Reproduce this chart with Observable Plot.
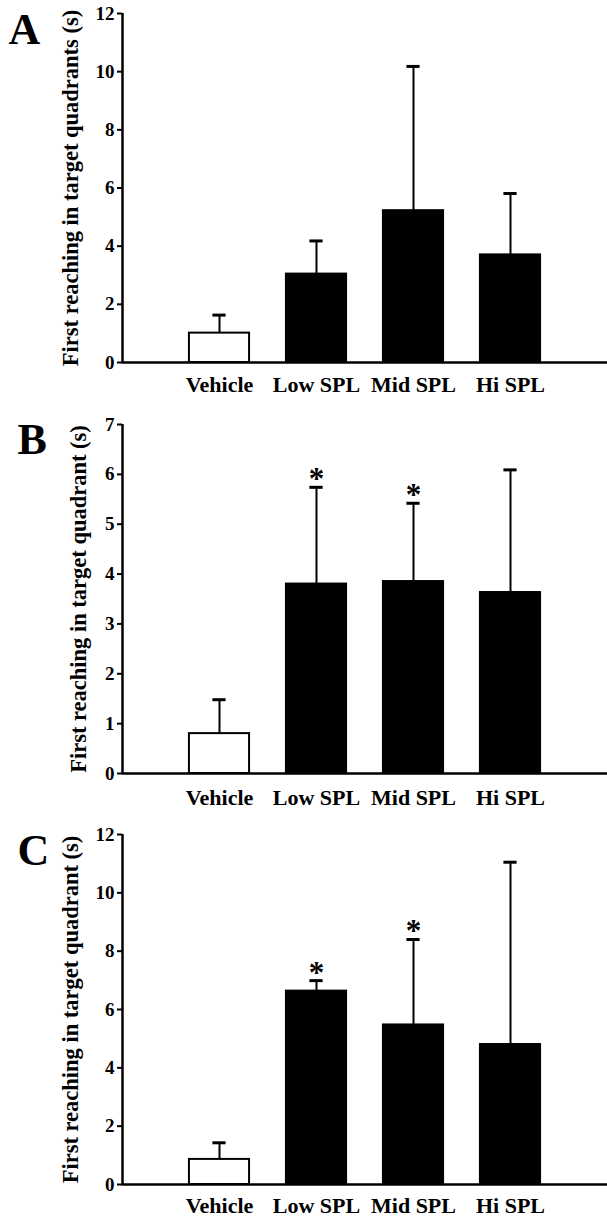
<!DOCTYPE html>
<html>
<head>
<meta charset="utf-8">
<script src="https://cdn.jsdelivr.net/npm/d3@7"></script>
<script src="https://cdn.jsdelivr.net/npm/@observablehq/plot@0.6"></script>
<style>
  body { margin: 0; background: #fff; }
  #chart svg { display: block; }
</style>
</head>
<body>
<div id="chart"></div>
<script>
// ---- Data ----
const categories = ["Vehicle", "Low SPL", "Mid SPL", "Hi SPL"];
const barFill = ["white", "black", "black", "black"];

const meansA = [1.01, 3.04, 5.22, 3.70];
const sdA    = [0.62, 1.14, 4.96, 2.11];
const starsA = [];
const ticksA = [0, 2, 4, 6, 8, 10, 12];

const meansB = [0.80, 3.80, 3.85, 3.63];
const sdB    = [0.68, 1.94, 1.57, 2.46];
const starsB = ["Low SPL", "Mid SPL"];
const ticksB = [0, 1, 2, 3, 4, 5, 6, 7];

const meansC = [0.86, 6.63, 5.47, 4.80];
const sdC    = [0.57, 0.36, 2.93, 6.25];
const starsC = ["Low SPL", "Mid SPL"];
const ticksC = [0, 2, 4, 6, 8, 10, 12];

const labelA = "First reaching in target quadrants (s)";
const labelB = "First reaching in target quadrant (s)";
const labelC = "First reaching in target quadrant (s)";

const FONT = "Liberation Serif";

function panel({letter, means, sds, stars, ticks, yLabel, height, marginTop, marginBottom,
                letterDx, letterDy, labelDx, xPad}) {
  const rows = categories.map((c, i) => ({
    cat: c, pos: i + 1, mean: means[i], top: means[i] + sds[i], fill: barFill[i]
  }));
  const starRows = rows.filter(r => stars.includes(r.cat));
  const yMax = ticks[ticks.length - 1];
  return Plot.plot({
    width: 607,
    height,
    marginLeft: 122,
    marginRight: 0,
    marginTop,
    marginBottom,
    style: {fontFamily: FONT, fontWeight: "bold", color: "black", background: "white", overflow: "visible"},
    x: {domain: [0, 5], axis: null},
    y: {domain: [0, yMax], axis: null},
    marks: [
      // bars
      Plot.rectY(rows, {
        x1: d => d.pos - 0.31, x2: d => d.pos + 0.31, y1: 0, y2: "mean",
        fill: "fill", stroke: "black", strokeWidth: 2
      }),
      // error bars (upper)
      Plot.ruleX(rows, {x: "pos", y1: "mean", y2: "top", stroke: "black", strokeWidth: 2}),
      Plot.ruleY(rows, {x1: d => d.pos - 0.068, x2: d => d.pos + 0.068, y: "top", stroke: "black", strokeWidth: 3}),
      // significance stars
      Plot.text(starRows, {
        x: "pos", y: "top", text: () => "*", dy: -8, fontSize: 31, fontWeight: "bold",
        fontFamily: FONT, lineAnchor: "middle", textAnchor: "middle", fill: "black"
      }),
      // axes
      Plot.axisY({ticks, tickSize: 5, tickPadding: 3, tickFormat: d => d, fontSize: 19,
                  fontFamily: FONT, fontWeight: "bold", strokeWidth: 2, label: null}),
      Plot.axisX({ticks: [1, 2, 3, 4], tickSize: 0, tickPadding: xPad,
                  tickFormat: i => categories[i - 1], fontSize: 22, fontFamily: FONT,
                  fontWeight: "bold", label: null}),
      Plot.ruleX([0], {stroke: "black", strokeWidth: 2.5}),
      Plot.ruleY([0], {stroke: "black", strokeWidth: 2.5}),
      // y label
      Plot.text([yLabel], {
        frameAnchor: "left", rotate: -90, dx: labelDx, fontSize: 22.5, fontWeight: "bold",
        fontFamily: FONT, textAnchor: "middle", lineAnchor: "middle", fill: "black"
      }),
      // panel letter
      Plot.text([letter], {
        frameAnchor: "top-left", dx: letterDx, dy: letterDy, fontSize: 44, fontWeight: "bold",
        fontFamily: FONT, textAnchor: "start", lineAnchor: "middle", fill: "black"
      })
    ]
  });
}

const chart = document.getElementById("chart");
chart.append(panel({letter: "A", means: meansA, sds: sdA, stars: starsA, ticks: ticksA, yLabel: labelA,
  height: 406, marginTop: 13, marginBottom: 44, letterDx: -114, letterDy: 16, labelDx: -52, xPad: 14}));
chart.append(panel({letter: "B", means: meansB, sds: sdB, stars: starsB, ticks: ticksB, yLabel: labelB,
  height: 406, marginTop: 18, marginBottom: 39, letterDx: -105, letterDy: 15, labelDx: -44, xPad: 16}));
chart.append(panel({letter: "C", means: meansC, sds: sdC, stars: starsC, ticks: ticksC, yLabel: labelC,
  height: 407, marginTop: 22, marginBottom: 35, letterDx: -105, letterDy: 16, labelDx: -52, xPad: 13}));
</script>
</body>
</html>
